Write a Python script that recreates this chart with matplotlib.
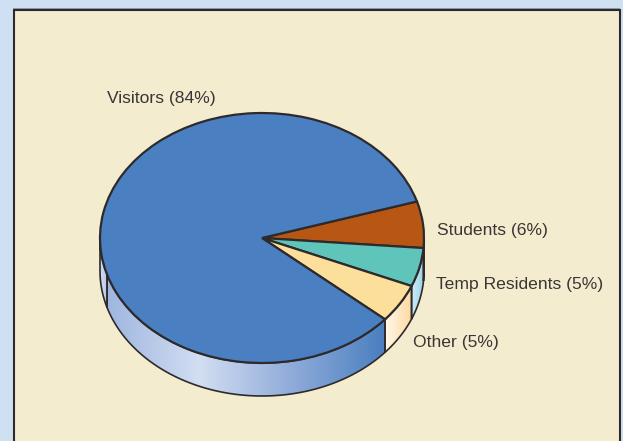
import matplotlib
matplotlib.use("Agg")
import matplotlib.pyplot as plt
from matplotlib.colors import LinearSegmentedColormap
from matplotlib.patches import Polygon, Rectangle
import numpy as np

plt.rcParams["font.family"] = ["Liberation Sans", "DejaVu Sans"]

categories = ["Students", "Temp Residents", "Other", "Visitors"]
shares = [6, 5, 5, 84]
top_colors = ["#b85713", "#5fc4b9", "#fddf9c", "#4a80c2"]
wall_colors = [
    ["#8ccbe0", "#8ccbe0"],
    ["#cdeaf5", "#9ad3e6"],
    ["#fff8ea", "#fdd9a0"],
    ["#9fb6df", "#d2def2", "#8fabd9", "#4a7fc0"],
]
label_pos = [(437, 230), (436, 284), (413, 343), (107, 98)]
INK = "#2e2a2c"
TEXT = "#3a3536"
W, H = 623, 441
CX, CY, RX, RY, DEPTH = 262, 238, 162, 125, 33 / 125
START = 17.0
SEAM = 197.0

fig = plt.figure(figsize=(W / 100, H / 100), dpi=100, facecolor="#cfe0f2")

bg = fig.add_axes([0, 0, 1, 1], zorder=0)
bg.set_xlim(0, W)
bg.set_ylim(H, 0)
bg.axis("off")
bg.add_patch(Rectangle((12.5, 8), 607, 440, fc="#8f9fb3", ec="none"))
bg.add_patch(Rectangle((14, 10), 606, 440, fc="#f3ecce", ec=INK, lw=1.5))
for (x, y), name, val in zip(label_pos, categories, shares):
    bg.text(x, y, f"{name} ({val}%)", fontsize=12.6, color=TEXT, va="center", ha="left")

ax = fig.add_axes([0, 0, 1, 1], zorder=1)
ax.patch.set_alpha(0)


def wall(a0, a1, stops, zorder=1):
    # side of the disc between two angles, only the part facing the viewer
    t = np.radians(np.linspace(a0, a1, 80))
    xs = np.cos(t)
    ys = np.sin(t)
    pts = np.r_[np.c_[xs, ys], np.c_[xs, ys - DEPTH][::-1]]
    cmap = LinearSegmentedColormap.from_list("w", stops)
    grad = np.linspace(0, 1, 256).reshape(1, -1)
    im = ax.imshow(grad, cmap=cmap, aspect="auto", zorder=zorder,
                   extent=(xs.min(), xs.max(), ys.min() - DEPTH, ys.max()))
    poly = Polygon(pts, closed=True, transform=ax.transData, fc="none", ec=INK, lw=1.2, zorder=zorder + 0.1)
    ax.add_patch(poly)
    im.set_clip_path(poly)


# angles of the slice edges, running clockwise from the start angle
edges = START - np.cumsum([0] + shares) * 3.6
wall(edges[1], edges[0] if edges[0] < 0 else 0, wall_colors[0])
wall(edges[2], edges[1], wall_colors[1])
wall(edges[3], edges[2], wall_colors[2])
wall(SEAM, edges[3] + 360, wall_colors[3])
wall(180, SEAM, ["#d3def3", "#b4c6e8"])

ax.pie(shares, colors=top_colors, startangle=START, counterclock=False, radius=1,
       wedgeprops={"edgecolor": INK, "linewidth": 1.6, "zorder": 3})

ax.set_aspect("auto")
ax.set_xlim(-CX / RX, (W - CX) / RX)
ax.set_ylim(-(H - CY) / RY, CY / RY)
ax.axis("off")

plt.savefig("out.png", dpi=100, facecolor=fig.get_facecolor())
plt.close()
